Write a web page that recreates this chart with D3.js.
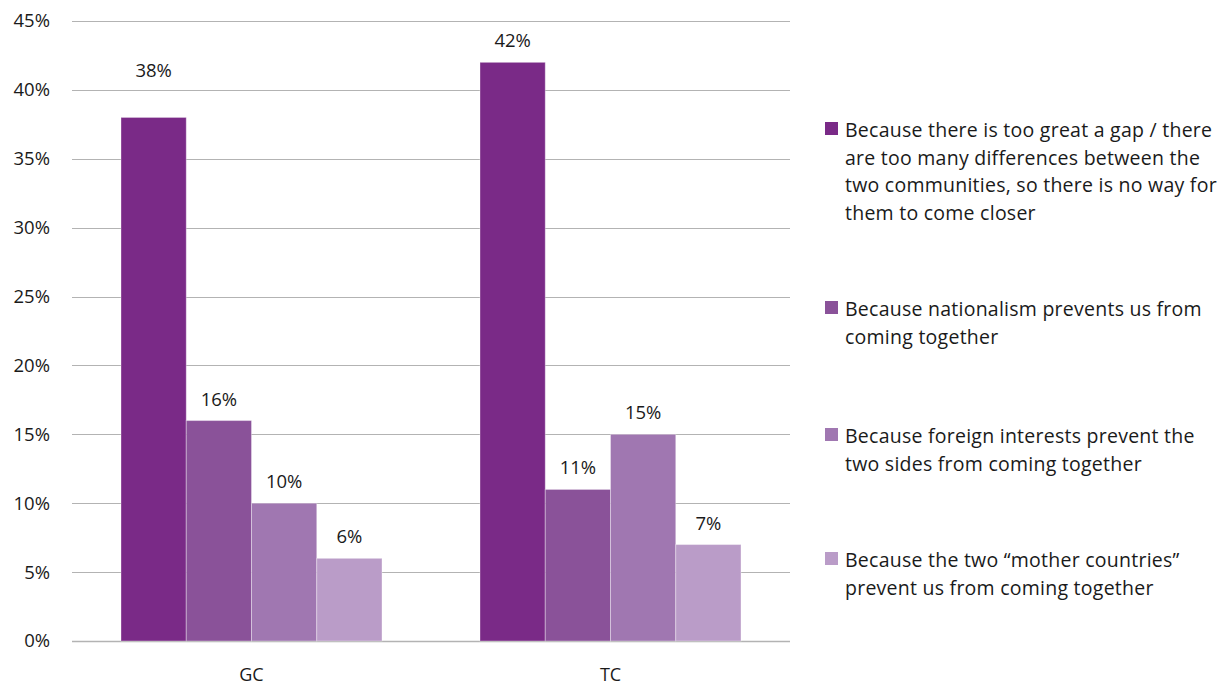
<!DOCTYPE html>
<html>
<head>
<meta charset="utf-8">
<script src="https://cdn.jsdelivr.net/npm/d3@7"></script>
<style>
  html, body { margin: 0; padding: 0; background: #fff; }
  svg { display: block; font-family: "Open Sans", Lato, "Liberation Sans", sans-serif; }
</style>
</head>
<body>
<svg id="chart" width="1226" height="688"></svg>
<script>
// Chart data
const categories = ["GC", "TC"];
const seriesNames = [
  "Because there is too great a gap / there are too many differences between the two communities, so there is no way for them to come closer",
  "Because nationalism  prevents us from coming together",
  "Because foreign interests prevent the two sides from coming together",
  "Because the two \u201cmother countries\u201d prevent us from coming together"
];
const legendLines = [
  ["Because there is too great a gap / there", "are too many differences between the", "two communities, so there is no way for", "them to come closer"],
  ["Because nationalism  prevents us from", "coming together"],
  ["Because foreign interests prevent the", "two sides from coming together"],
  ["Because the two \u201cmother countries\u201d", "prevent us from coming together"]
];
const gcValues = [38, 16, 10, 6];
const tcValues = [42, 11, 15, 7];
const yTicks = [0, 5, 10, 15, 20, 25, 30, 35, 40, 45];

const colors = ["#7a2a87", "#8a5299", "#a077b1", "#ba9cc8"];

const FONT = "'Open Sans', Lato, sans-serif";
const svg = d3.select("#chart");
const margin = { left: 72, right: 436, top: 21, bottom: 47 };
const W = 1226, H = 688;
const plotW = W - margin.left - margin.right;
const plotH = H - margin.top - margin.bottom;

const g = svg.append("g").attr("transform", `translate(${margin.left},${margin.top})`);

const x0 = d3.scaleBand().domain(categories).range([0, plotW]);
// the four bars of a category span ~73% of its band
const groupFrac = 0.727;
const x1 = d3.scaleBand().domain(d3.range(seriesNames.length))
  .range([x0.bandwidth() * (1 - groupFrac) / 2, x0.bandwidth() * (1 + groupFrac) / 2]);
const y = d3.scaleLinear().domain([0, 45]).range([plotH, 0]);

// gridlines
g.append("g").selectAll("line").data(yTicks).join("line")
  .attr("x1", 0).attr("x2", plotW)
  .attr("y1", d => Math.round(y(d)) + 0.5).attr("y2", d => Math.round(y(d)) + 0.5)
  .attr("stroke", "#b3b3b3").attr("stroke-width", d => d === 0 ? 1.6 : 1.2);

// y axis labels
const yAxis = d3.axisLeft(y).tickValues(yTicks).tickFormat(d => d + "%").tickSize(0).tickPadding(22);
const ya = g.append("g").call(yAxis);
ya.select(".domain").remove();
ya.selectAll("text").attr("font-size", 18.5).attr("fill", "#1a1a1a").attr("font-family", FONT);

// x axis labels
const xAxis = d3.axisBottom(x0).tickSize(0).tickPadding(27);
const xa = g.append("g").attr("transform", `translate(0,${plotH})`).call(xAxis);
xa.select(".domain").remove();
xa.selectAll("text").attr("font-size", 18).attr("fill", "#1a1a1a").attr("font-family", FONT);

const rows = categories.map((c, i) => ({ cat: c, values: i === 0 ? gcValues : tcValues }));

// label lift above bar top; the tall GC bar's label sits higher
const labelLift = (ci, si) => (ci === 0 && si === 0) ? 40 : 15;

const grp = g.selectAll(".grp").data(rows).join("g")
  .attr("transform", d => `translate(${x0(d.cat)},0)`);

grp.each(function(row, ci) {
  const sel = d3.select(this);
  sel.selectAll("rect").data(row.values).join("rect")
    .attr("x", (d, i) => x1(i))
    .attr("width", x1.bandwidth())
    .attr("y", d => y(d))
    .attr("height", d => plotH - y(d))
    .attr("fill", (d, i) => colors[i])
    .attr("stroke", "#ffffff").attr("stroke-opacity", 0.35).attr("stroke-width", 1);
  sel.selectAll("text").data(row.values).join("text")
    .attr("x", (d, i) => x1(i) + x1.bandwidth() / 2)
    .attr("y", (d, i) => y(d) - labelLift(ci, i))
    .attr("text-anchor", "middle")
    .attr("font-size", 18.5).attr("fill", "#1a1a1a")
    .text(d => d + "%");
});

// legend
const legendTops = [130, 309, 436, 560];
const lineH = 27.5;
const lg = svg.append("g");
legendLines.forEach((lines, i) => {
  lg.append("rect")
    .attr("x", 825).attr("y", legendTops[i] - 8)
    .attr("width", 13).attr("height", 13)
    .attr("fill", colors[i]);
  const t = lg.append("text")
    .attr("x", 845).attr("y", legendTops[i] + 7)
    .attr("font-size", 19.5).attr("letter-spacing", 0.25).attr("fill", "#1a1a1a");
  lines.forEach((ln, k) => {
    t.append("tspan").attr("x", 845).attr("dy", k === 0 ? 0 : lineH).text(ln);
  });
});
</script>
</body>
</html>
